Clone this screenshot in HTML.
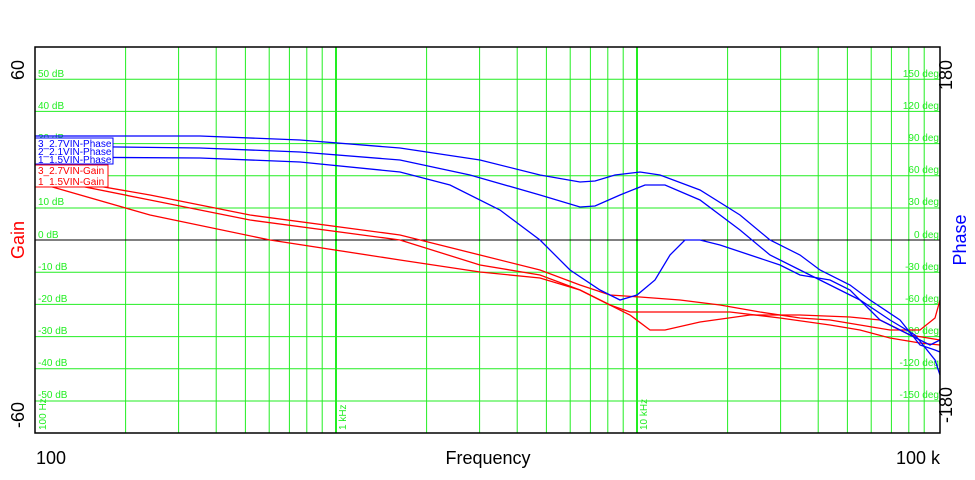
<!DOCTYPE html><html><head><style>body{margin:0;background:#fff}svg{display:block;font-family:"Liberation Sans",sans-serif}</style></head><body>
<svg width="975" height="480" viewBox="0 0 975 480">
<rect width="975" height="480" fill="#fff"/>
<g stroke="#22ee22" stroke-width="1">
<line x1="125.6" y1="47" x2="125.6" y2="433"/><line x1="178.6" y1="47" x2="178.6" y2="433"/><line x1="216.2" y1="47" x2="216.2" y2="433"/><line x1="245.4" y1="47" x2="245.4" y2="433"/><line x1="269.2" y1="47" x2="269.2" y2="433"/><line x1="289.4" y1="47" x2="289.4" y2="433"/><line x1="306.8" y1="47" x2="306.8" y2="433"/><line x1="322.2" y1="47" x2="322.2" y2="433"/>
<line x1="426.6" y1="47" x2="426.6" y2="433"/><line x1="479.6" y1="47" x2="479.6" y2="433"/><line x1="517.2" y1="47" x2="517.2" y2="433"/><line x1="546.4" y1="47" x2="546.4" y2="433"/><line x1="570.2" y1="47" x2="570.2" y2="433"/><line x1="590.4" y1="47" x2="590.4" y2="433"/><line x1="607.8" y1="47" x2="607.8" y2="433"/><line x1="623.2" y1="47" x2="623.2" y2="433"/>
<line x1="727.6" y1="47" x2="727.6" y2="433"/><line x1="780.6" y1="47" x2="780.6" y2="433"/><line x1="818.2" y1="47" x2="818.2" y2="433"/><line x1="847.4" y1="47" x2="847.4" y2="433"/><line x1="871.2" y1="47" x2="871.2" y2="433"/><line x1="891.4" y1="47" x2="891.4" y2="433"/><line x1="908.8" y1="47" x2="908.8" y2="433"/><line x1="924.2" y1="47" x2="924.2" y2="433"/>
<line x1="336" y1="47" x2="336" y2="433" stroke-width="2"/><line x1="637" y1="47" x2="637" y2="433" stroke-width="2"/>
<line x1="35" y1="79.2" x2="940" y2="79.2"/><line x1="35" y1="111.4" x2="940" y2="111.4"/><line x1="35" y1="143.6" x2="940" y2="143.6"/><line x1="35" y1="175.8" x2="940" y2="175.8"/><line x1="35" y1="208" x2="940" y2="208"/><line x1="35" y1="272.2" x2="940" y2="272.2"/><line x1="35" y1="304.4" x2="940" y2="304.4"/><line x1="35" y1="336.6" x2="940" y2="336.6"/><line x1="35" y1="368.8" x2="940" y2="368.8"/><line x1="35" y1="401" x2="940" y2="401"/>
</g>
<line x1="35" y1="240" x2="940" y2="240" stroke="#000" stroke-width="1"/>
<g fill="#22ee22" font-size="10">
<text x="38" y="77">50 dB</text><text x="38" y="109">40 dB</text><text x="38" y="141">30 dB</text><text x="38" y="205">10 dB</text><text x="38" y="238">0 dB</text><text x="38" y="270">-10 dB</text><text x="38" y="302">-20 dB</text><text x="38" y="334">-30 dB</text><text x="38" y="366">-40 dB</text><text x="38" y="398">-50 dB</text>
<g text-anchor="end"><text x="939" y="77">150 deg</text><text x="939" y="109">120 deg</text><text x="939" y="141">90 deg</text><text x="939" y="173">60 deg</text><text x="939" y="205">30 deg</text><text x="939" y="238">0 deg</text><text x="939" y="270">-30 deg</text><text x="939" y="302">-60 deg</text><text x="939" y="334">-90 deg</text><text x="939" y="366">-120 deg</text><text x="939" y="398">-150 deg</text></g>
<text transform="translate(46,430) rotate(-90)">100 Hz</text><text transform="translate(346,430) rotate(-90)">1 kHz</text><text transform="translate(647,430) rotate(-90)">10 kHz</text>
</g>
<g fill="none" stroke-width="1.3">
<polyline stroke="#f00" points="35,175 150,195 250,215 400,235 480,255 540,270 580,285 610,295 640,297 680,300 720,305 760,312 800,318 830,320 860,325 890,330 920,330 935,318 940,300"/>
<polyline stroke="#f00" points="35,177 150,200 250,220 400,240 480,265 540,275 580,290 610,305 630,315 650,330 665,330 700,322 750,315 800,315 850,317 880,320 910,335 940,340"/>
<polyline stroke="#f00" points="35,182 150,215 270,240 400,260 480,272 540,278 580,290 610,305 630,312 680,312 730,312 780,318 830,325 860,330 890,338 920,343 940,345"/>
<polyline stroke="#00f" points="35,136 200,136 300,140 400,148 480,160 540,175 580,182 595,181 615,175 640,172 660,175 700,190 740,215 770,240 800,255 820,270 850,285 870,300 900,320 920,345 935,350 940,352"/>
<polyline stroke="#00f" points="35,146 200,148 300,152 400,160 470,175 540,195 580,207 595,206 620,195 645,185 665,185 700,200 740,230 770,255 800,270 830,285 860,300 890,320 915,335 935,360 940,375"/>
<polyline stroke="#00f" points="35,157 200,158 300,162 400,172 450,185 500,210 540,240 570,270 600,290 620,300 637,295 655,280 670,255 685,240 700,240 720,245 750,255 780,265 800,275 830,280 850,290 870,310 880,320 900,330 930,345 940,340"/>
</g>
<g font-size="10">
<rect x="35" y="138" width="78" height="26" fill="#fff" stroke="#00f"/>
<text x="38" y="147" fill="#00f">3_2.7VIN-Phase</text><text x="38" y="155" fill="#00f">2_2.1VIN-Phase</text><text x="38" y="163" fill="#00f">1_1.5VIN-Phase</text>
<rect x="35" y="165" width="73" height="22" fill="#fff" stroke="#f00"/>
<text x="38" y="174" fill="#f00">3_2.7VIN-Gain</text><text x="38" y="185" fill="#f00">1_1.5VIN-Gain</text>
</g>
<rect x="35" y="47" width="905" height="386" fill="none" stroke="#000" stroke-width="1.5"/>
<g font-size="18" fill="#000">
<text transform="translate(24,70) rotate(-90)" text-anchor="middle">60</text>
<text transform="translate(24,415) rotate(-90)" text-anchor="middle">-60</text>
<text transform="translate(24,240) rotate(-90)" text-anchor="middle" fill="#f00">Gain</text>
<text transform="translate(952,75) rotate(-90)" text-anchor="middle">180</text>
<text transform="translate(952,405) rotate(-90)" text-anchor="middle">-180</text>
<text transform="translate(966,240) rotate(-90)" text-anchor="middle" fill="#00f">Phase</text>
<text x="36" y="464">100</text>
<text x="488" y="464" text-anchor="middle">Frequency</text>
<text x="940" y="464" text-anchor="end">100 k</text>
</g>
</svg>
</body></html>
